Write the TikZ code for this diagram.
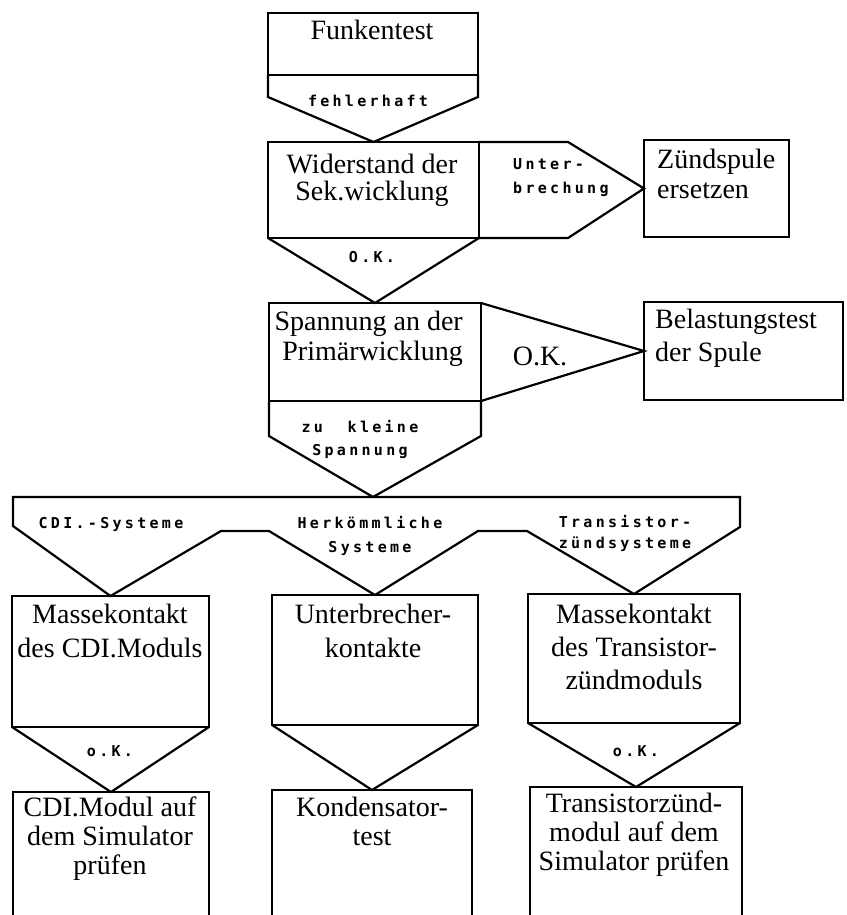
\documentclass[tikz,border=0pt]{standalone}
\usepackage{fontspec}
\setmainfont{Liberation Serif}
\newfontfamily\labfont{DejaVu Sans Mono}[LetterSpace=22]
\begin{document}
\begin{tikzpicture}[x=1pt,y=-1pt,
  shp/.style={draw,line width=2.2pt,line join=miter},
  bx/.style={draw,line width=2.2pt,inner sep=0pt,outer sep=0pt},
  main/.style={font=\fontsize{28}{#1}\selectfont,inner sep=0pt},
  main/.default=28,
  lab/.style={font=\labfont\bfseries\fontsize{15}{#1}\selectfont,inner sep=0pt},
  lab/.default=24]
\useasboundingbox (0,0) rectangle (846,915);

% boxes
\node[bx,minimum width=210pt,minimum height=62pt] (funk) at (373,44) {};
\node[bx,minimum width=211pt,minimum height=96pt] (wid) at (373.5,190) {};
\node[bx,minimum width=145pt,minimum height=97pt] (zuend) at (716.5,188.5) {};
\node[bx,minimum width=212pt,minimum height=98pt] (span) at (375,352) {};
\node[bx,minimum width=199pt,minimum height=98pt] (bel) at (743.5,351) {};
\node[bx,minimum width=197pt,minimum height=131pt] (m1) at (110.5,661.5) {};
\node[bx,minimum width=206pt,minimum height=130pt] (m2) at (375,660) {};
\node[bx,minimum width=212pt,minimum height=129pt] (m3) at (634,658.5) {};

% open bottom boxes
\coordinate (c1a) at (111,792);
\coordinate (c2a) at (372,790);
\coordinate (c3a) at (636,787);
\draw[shp] (13,920) -- (13,792) -- (209,792) -- (209,920);
\draw[shp] (272,920) -- (272,790) -- (472,790) -- (472,920);
\draw[shp] (530,920) -- (530,787) -- (742,787) -- (742,920);

% arrow shapes
\draw[shp] (funk.south west) -- ++(0,22) coordinate (fl) -- (wid.north) -- (funk.south east |- fl) -- (funk.south east);
\draw[shp] (wid.north east) -- ++(89,0) coordinate (u1) -- (zuend.west) -- (u1 |- wid.south) -- (wid.south east);
\draw[shp] (wid.south west) -- (span.north) -- (wid.south east);
\draw[shp] (span.north east) -- (bel.west) -- (span.south east);
\coordinate (bartop) at (373,497);
\draw[shp] (span.south west) -- ++(0,35) coordinate (z1) -- (bartop) -- (span.south east |- z1) -- (span.south east);
\draw[shp] (13,526) -- (13,497) -- (740,497) -- (740,527) -- (m3.north) -- (527,531) -- (478,531) -- (m2.north) -- (269,531) -- (221,531) -- (m1.north) -- cycle;
\draw[shp] (m1.south west) -- (c1a) -- (m1.south east);
\draw[shp] (m2.south west) -- (c2a) -- (m2.south east);
\draw[shp] (m3.south west) -- (c3a) -- (m3.south east);

% main texts (base anchor = baseline of the last line)
\node[main,anchor=base] (tfunk) at (372,40) {Funkentest};
\node[main=27,anchor=base,align=center] (twid) at (372,200) {Widerstand der\\Sek.wicklung};
\node[main=30,anchor=base west,align=left] (tzuend) at (657,198) {Zündspule\\ersetzen};
\node[main=30,anchor=base east,align=right] (tspan) at (463,360) {Spannung an der\\Primärwicklung};
\node[main,anchor=base] (tok) at (540,365) {O.K.};
\node[main=33,anchor=base west,align=left] (tbel) at (655,361) {Belastungstest\\der Spule};
\node[main=34,anchor=base,align=center] (tm1) at (110,657) {Massekontakt\\des CDI.Moduls};
\node[main=34,anchor=base,align=center] (tm2) at (373,657) {Unterbrecher-\\kontakte};
\node[main=33,anchor=base,align=center] (tm3) at (634,689) {Massekontakt\\des Transistor-\\zündmoduls};
\node[main=29,anchor=base,align=center] (tc1) at (110,874) {CDI.Modul auf\\dem Simulator\\prüfen};
\node[main=29,anchor=base,align=center] (tc2) at (372,845) {Kondensator-\\test};
\node[main=29,anchor=base,align=center] (tc3) at (634,870) {Transistorzünd-\\modul auf dem\\Simulator prüfen};

% labels
\node[lab,anchor=base] (lfehl) at (368,107) {fehlerhaft};
\node[lab,anchor=base west,align=left] (lunt) at (513,193) {Unter-\\brechung};
\node[lab,anchor=base] (lok1) at (372,262) {O.K.};
\node[lab=23,anchor=base,align=center] (lzu) at (360,455) {zu~~kleine\\Spannung};
\node[lab,anchor=base] (lcdi) at (111,528) {CDI.-Systeme};
\node[lab,anchor=base,align=center] (lherk) at (370,552) {Herkömmliche\\Systeme};
\node[lab=21,anchor=base,align=center] (ltrans) at (625,548) {Transistor-\\zündsysteme};
\node[lab,anchor=base] (lok2) at (110,756) {o.K.};
\node[lab,anchor=base] (lok3) at (636,756) {o.K.};
\end{tikzpicture}
\end{document}
